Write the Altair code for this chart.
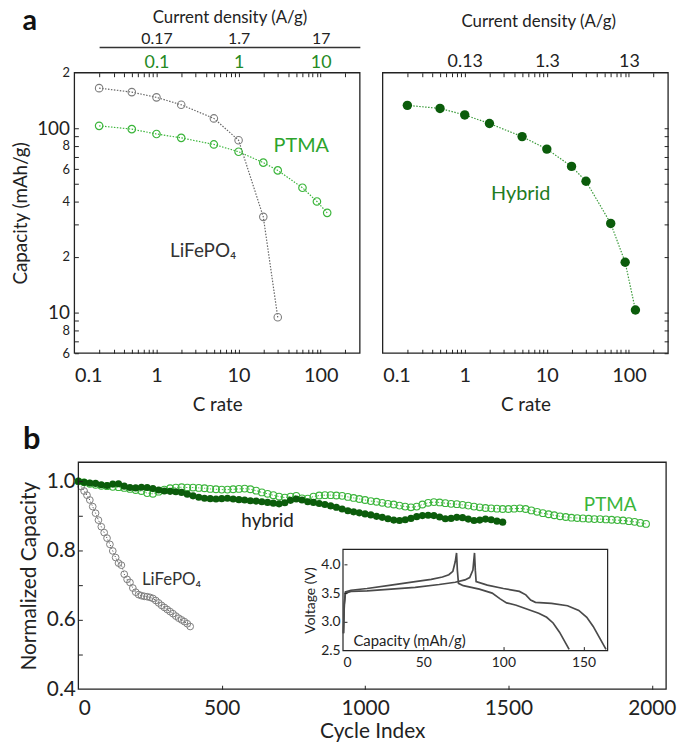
import math
import altair as alt
import pandas as pd

FONT = "Lato"
INK = "#222222"
LFP_GRAY = "#7d7d7d"
PTMA_GREEN = "#3bb53b"
PTMA_TXT = "#2ca42c"
AXIS_GREEN = "#248a24"
HYB_GREEN = "#0b5c0b"
HYB_TXT = "#1f7c1f"
INSET_LINE = "#4a4a4a"

# ---------------- data: (a) rate capability ----------------
crate_lfp = [0.2, 0.5, 1, 2, 5, 10, 20, 30]
cap_lfp = [165, 157, 147, 134, 113, 86, 33, 9.4]
crate_ptma = [0.2, 0.5, 1, 2, 5, 10, 20, 30, 60, 90, 120]
cap_ptma = [103, 98.8, 93, 88.6, 81.6, 74.5, 65, 59, 47.5, 40, 34.7]
crate_hyb = [0.2, 0.5, 1, 2, 5, 10, 20, 30, 60, 90, 120]
cap_hyb = [133, 128, 118, 106, 90, 77, 62, 51.5, 30.4, 18.7, 10.3]

# current density of 1C (A/g) and top-axis ticks
cd_per_c_lfp = 0.17
cd_per_c_ptma = 0.1
cd_per_c_hyb = 0.13
cd_lfp_ticks = [0.17, 1.7, 17]
cd_ptma_ticks = [0.1, 1, 10]
cd_hyb_ticks = [0.13, 1.3, 13]

crate_ticks = [0.1, 1, 10, 100]
cap_label_vals = [200, 100, 80, 60, 40, 20, 10, 8, 6]
cap_label_text = ["2", "100", "8", "6", "4", "2", "10", "8", "6"]

# ---------------- data: (b) cycling ----------------
cyc_lfp = list(range(0, 400, 10))
norm_lfp = [1.000, 0.985, 0.972, 0.960, 0.946, 0.927, 0.908, 0.888, 0.869, 0.852,
            0.836, 0.818, 0.799, 0.780, 0.764, 0.758, 0.732, 0.717, 0.708, 0.692,
            0.680, 0.673, 0.670, 0.668, 0.667, 0.665, 0.662, 0.656, 0.649, 0.642,
            0.636, 0.630, 0.624, 0.618, 0.611, 0.605, 0.600, 0.595, 0.589, 0.581]
cyc_ptma = list(range(0, 2000, 20))
norm_ptma = [1.000, 0.997, 0.993, 0.990, 0.987, 0.986, 0.984, 0.983, 0.981, 0.978,
             0.975, 0.972, 0.966, 0.964, 0.970, 0.976, 0.980, 0.982, 0.983, 0.982,
             0.982, 0.981, 0.980, 0.978, 0.977, 0.976, 0.976, 0.977, 0.978, 0.979,
             0.977, 0.973, 0.968, 0.964, 0.960, 0.956, 0.953, 0.956, 0.958, 0.951,
             0.950, 0.956, 0.959, 0.960, 0.960, 0.959, 0.958, 0.955, 0.952, 0.949,
             0.946, 0.943, 0.941, 0.938, 0.935, 0.933, 0.930, 0.927, 0.925, 0.927,
             0.933, 0.938, 0.940, 0.939, 0.937, 0.935, 0.934, 0.932, 0.930, 0.927,
             0.925, 0.923, 0.922, 0.921, 0.920, 0.920, 0.921, 0.922, 0.920, 0.916,
             0.912, 0.908, 0.905, 0.902, 0.899, 0.897, 0.895, 0.894, 0.893, 0.892,
             0.891, 0.891, 0.890, 0.889, 0.888, 0.887, 0.885, 0.883, 0.880, 0.877]
cyc_hyb = list(range(0, 1500, 20))
norm_hyb = [1.000, 0.997, 0.995, 0.994, 0.990, 0.988, 0.992, 0.993, 0.986, 0.982,
            0.981, 0.983, 0.982, 0.979, 0.975, 0.972, 0.971, 0.970, 0.968, 0.963,
            0.958, 0.954, 0.951, 0.950, 0.949, 0.950, 0.951, 0.949, 0.947, 0.946,
            0.944, 0.943, 0.941, 0.939, 0.937, 0.935, 0.938, 0.945, 0.949, 0.946,
            0.941, 0.939, 0.936, 0.933, 0.929, 0.925, 0.920, 0.915, 0.912, 0.909,
            0.906, 0.903, 0.899, 0.896, 0.892, 0.888, 0.887, 0.889, 0.893, 0.898,
            0.901, 0.902, 0.901, 0.897, 0.892, 0.893, 0.896, 0.895, 0.891, 0.887,
            0.888, 0.891, 0.889, 0.885, 0.882]

# inset: charge/discharge profiles
cap_curve_a = [0.3, 0.8, 1.5, 5, 15, 30, 45, 55, 62, 66, 68.5, 70, 70.8, 71.3, 72, 75,
               85, 93, 98, 102, 108, 115, 122, 127, 131, 135, 139, 141]
volt_curve_a = [2.80, 3.30, 3.52, 3.55, 3.58, 3.64, 3.70, 3.74, 3.78, 3.82, 3.88, 4.05,
                4.20, 3.90, 3.67, 3.63, 3.57, 3.50, 3.40, 3.33, 3.29, 3.22, 3.15, 3.08,
                2.98, 2.82, 2.62, 2.52]
cap_curve_b = [0.3, 0.8, 1.5, 5, 15, 30, 45, 60, 70, 76, 79, 81, 82, 82.5, 83, 90,
               100, 110, 114, 117, 120, 130, 140, 147, 152, 156, 160, 164]
volt_curve_b = [2.80, 3.30, 3.50, 3.53, 3.54, 3.57, 3.60, 3.65, 3.69, 3.73, 3.77, 3.90,
                4.20, 3.90, 3.70, 3.64, 3.58, 3.53, 3.47, 3.38, 3.34, 3.32, 3.28, 3.20,
                3.08, 2.92, 2.72, 2.52]

# annotations (data coordinates)
ann_ptma_a = (58, 80)
ann_lfp_a = (3.7, 21.6)
ann_hyb_a = (4.8, 43.8)
ann_hyb_b = (660, 0.884)
ann_ptma_b = (1855, 0.931)
ann_lfp_b = (325, 0.715)

# ---------------- layout (pixels inside the single canvas) ----------------
W, H = 599, 622
LX = [0, 288]
RX = [311, 599]
AY = [283, 0]
BX = [4, 597]
BY = [622, 393]
IX = [271, 538]
IY = [583, 481]

CR_DOM = [0.1, 300]
CAP_DOM = [6, 200]
CYC_DOM = [0, 2050]
NORM_DOM = [0.4, 1.055]
ICAP_DOM = [0, 165]
IV_DOM = [2.5, 4.26]


def sc(typ, dom, rng):
    if typ == "log":
        return alt.Scale(type="log", domain=dom, range=rng, nice=False)
    return alt.Scale(type=typ, domain=dom, range=rng, nice=False, zero=False)


sLx = sc("log", CR_DOM, LX)
sRx = sc("log", CR_DOM, RX)
sAy = sc("log", CAP_DOM, AY)
sBx = sc("linear", CYC_DOM, BX)
sBy = sc("linear", NORM_DOM, BY)
sIx = sc("linear", ICAP_DOM, IX)
sIy = sc("linear", IV_DOM, IY)

# black current-density axis: line starts at the first rate (0.2C)
x02 = LX[0] + (LX[1] - LX[0]) * math.log10(0.2 / CR_DOM[0]) / math.log10(CR_DOM[1] / CR_DOM[0])
sLcd = sc("log", [0.2 * cd_per_c_lfp, CR_DOM[1] * cd_per_c_lfp], [x02, LX[1]])
sPcd = sc("log", [CR_DOM[0] * cd_per_c_ptma, CR_DOM[1] * cd_per_c_ptma], LX)
sHcd = sc("log", [CR_DOM[0] * cd_per_c_hyb, CR_DOM[1] * cd_per_c_hyb], RX)

crate_minor = [m * 10 ** e for e in (-1, 0, 1, 2) for m in range(1, 10)
               if CR_DOM[0] < m * 10 ** e < CR_DOM[1]]
cap_minor = [m * 10 ** e for e in (0, 1, 2) for m in range(1, 10)
             if CAP_DOM[0] <= m * 10 ** e < CAP_DOM[1]]


def lab_expr(vals, texts):
    return " : ".join(f"datum.value == {v} ? '{t}'" for v, t in zip(vals, texts)) + " : ''"


def tick_axis(orient, offset, values, size=4):
    return alt.Axis(orient=orient, offset=offset, values=values, labels=False,
                    domain=False, ticks=True, tickSize=size, tickWidth=1,
                    tickColor=INK, title=None, grid=False, zindex=2)


def X(f, s, axis=None):
    return alt.X(f, type="quantitative", scale=s, axis=axis)


def Y(f, s, axis=None):
    return alt.Y(f, type="quantitative", scale=s, axis=axis)


df_lfp = pd.DataFrame({"c": crate_lfp, "cap": cap_lfp})
df_ptma = pd.DataFrame({"c": crate_ptma, "cap": cap_ptma})
df_hyb = pd.DataFrame({"c": crate_hyb, "cap": cap_hyb})
df_blfp = pd.DataFrame({"n": cyc_lfp, "v": norm_lfp})
df_bptma = pd.DataFrame({"n": cyc_ptma, "v": norm_ptma})
df_bhyb = pd.DataFrame({"n": cyc_hyb, "v": norm_hyb})
df_ia = pd.DataFrame({"q": cap_curve_a, "u": volt_curve_a, "i": range(len(cap_curve_a))})
df_ib = pd.DataFrame({"q": cap_curve_b, "u": volt_curve_b, "i": range(len(cap_curve_b))})

dotted = dict(strokeDash=[1.5, 1.5], strokeWidth=1.2)
layers = []

# ======================= panel a (left) =======================
ax_L_bottom = alt.Axis(orient="bottom", offset=-(H - AY[0]), values=crate_ticks, format="~g",
                       labelFontSize=20, labelPadding=13, ticks=False, domain=False,
                       title="C rate", titleFontSize=19, titleY=58, titleBaseline="alphabetic")
ax_L_left = alt.Axis(orient="left", values=cap_label_vals,
                     labelExpr=lab_expr(cap_label_vals, cap_label_text),
                     labelFontSize={"condition": {"test": "datum.value == 100 || datum.value == 10",
                                                  "value": 19}, "value": 13},
                     labelPadding=5, ticks=False, domain=False,
                     title="Capacity (mAh/g)", titleFontSize=19, titleX=-54,
                     titleBaseline="middle")

layers.append(alt.Chart(df_lfp).mark_line(color="#666666", **dotted).encode(
    x=X("c", sLx), y=Y("cap", sAy)))
layers.append(alt.Chart(df_lfp).mark_point(shape="circle", filled=False, size=57, strokeWidth=1.1,
                                            color=LFP_GRAY, opacity=1).encode(
    x=X("c", sLx, ax_L_bottom), y=Y("cap", sAy, ax_L_left)))
layers.append(alt.Chart(df_ptma).mark_line(color=PTMA_GREEN, **dotted).encode(
    x=X("c", sLx), y=Y("cap", sAy)))
layers.append(alt.Chart(df_ptma).mark_point(shape="circle", filled=False, size=57, strokeWidth=1.2,
                                             color=PTMA_GREEN, opacity=1).encode(
    x=X("c", sLx), y=Y("cap", sAy)))
# green current-density labels (PTMA)
layers.append(alt.Chart(pd.DataFrame({"cd": cd_ptma_ticks})).mark_point(opacity=0).encode(
    x=X("cd", sPcd, alt.Axis(orient="top", values=cd_ptma_ticks, format="~g",
                             labelColor=AXIS_GREEN, labelFontSize=18, labelPadding=1,
                             ticks=False, domain=False, title=None))))
# black current-density axis (LiFePO4)
layers.append(alt.Chart(pd.DataFrame({"cd": cd_lfp_ticks})).mark_point(opacity=0).encode(
    x=X("cd", sLcd, alt.Axis(orient="top", offset=26, values=cd_lfp_ticks, format="~g",
                             labelFontSize=16, labelPadding=1, ticks=False, domain=True,
                             domainColor="#333333", domainWidth=1.4,
                             title="Current density (A/g)", titleFontSize=17,
                             titleY=-25, titleBaseline="alphabetic"))))
# inward ticks
layers.append(alt.Chart(df_lfp).mark_point(opacity=0).encode(
    x=X("c", sLx, tick_axis("bottom", -(H - AY[0]) - 4, crate_minor)),
    y=Y("cap", sAy, tick_axis("left", -4, cap_minor))))
layers.append(alt.Chart(df_lfp).mark_point(opacity=0).encode(
    x=X("c", sLx, tick_axis("top", -4, crate_minor))))
# frame
layers.append(alt.Chart(pd.DataFrame({"x0": [CR_DOM[0]], "x1": [CR_DOM[1]],
                                      "y0": [CAP_DOM[0]], "y1": [CAP_DOM[1]]}))
              .mark_rect(fillOpacity=0, stroke=INK, strokeWidth=1.3).encode(
    x=X("x0", sLx), x2="x1", y=Y("y0", sAy), y2="y1"))
layers.append(alt.Chart(pd.DataFrame({"x": [ann_ptma_a[0]], "y": [ann_ptma_a[1]], "t": ["PTMA"]}))
              .mark_text(font=FONT, fontSize=20, color=PTMA_TXT).encode(
    x=X("x", sLx), y=Y("y", sAy), text="t"))
layers.append(alt.Chart(pd.DataFrame({"x": [ann_lfp_a[0]], "y": [ann_lfp_a[1]], "t": ["LiFePO₄"]}))
              .mark_text(font=FONT, fontSize=19, color="#333333").encode(
    x=X("x", sLx), y=Y("y", sAy), text="t"))

# ======================= panel a (right) =======================
ax_R_bottom = alt.Axis(orient="bottom", offset=-(H - AY[0]), values=crate_ticks, format="~g",
                       labelFontSize=20, labelPadding=13, ticks=False, domain=False,
                       title="C rate", titleFontSize=19, titleY=58, titleBaseline="alphabetic")
layers.append(alt.Chart(df_hyb).mark_line(color="#3a9a3a", **dotted).encode(
    x=X("c", sRx), y=Y("cap", sAy)))
layers.append(alt.Chart(df_hyb).mark_circle(size=90, color=HYB_GREEN, opacity=1).encode(
    x=X("c", sRx, ax_R_bottom), y=Y("cap", sAy)))
layers.append(alt.Chart(pd.DataFrame({"cd": cd_hyb_ticks})).mark_point(opacity=0).encode(
    x=X("cd", sHcd, alt.Axis(orient="top", values=cd_hyb_ticks, format="~g",
                             labelFontSize=18, labelPadding=2, ticks=False, domain=False,
                             title="Current density (A/g)", titleFontSize=17,
                             titleX=RX[0] + 157, titleY=-47, titleBaseline="alphabetic"))))
layers.append(alt.Chart(df_hyb).mark_point(opacity=0).encode(
    x=X("c", sRx, tick_axis("bottom", -(H - AY[0]) - 4, crate_minor)),
    y=Y("cap", sAy, tick_axis("right", -4, cap_minor))))
layers.append(alt.Chart(df_hyb).mark_point(opacity=0).encode(
    x=X("c", sRx, tick_axis("top", -4, crate_minor))))
layers.append(alt.Chart(pd.DataFrame({"x0": [CR_DOM[0]], "x1": [CR_DOM[1]],
                                      "y0": [CAP_DOM[0]], "y1": [CAP_DOM[1]]}))
              .mark_rect(fillOpacity=0, stroke=INK, strokeWidth=1.3).encode(
    x=X("x0", sRx), x2="x1", y=Y("y0", sAy), y2="y1"))
layers.append(alt.Chart(pd.DataFrame({"x": [ann_hyb_a[0]], "y": [ann_hyb_a[1]], "t": ["Hybrid"]}))
              .mark_text(font=FONT, fontSize=20, color=HYB_TXT).encode(
    x=X("x", sRx), y=Y("y", sAy), text="t"))

# ======================= panel b =======================
ax_B_bottom = alt.Axis(orient="bottom", values=[0, 500, 1000, 1500, 2000], format="d",
                       labelFontSize=21, labelPadding=9, ticks=False, domain=False,
                       title="Cycle Index", titleFontSize=21, titleY=49,
                       titleBaseline="alphabetic")
ax_B_left = alt.Axis(orient="left", offset=-BX[0], values=[0.4, 0.6, 0.8, 1.0], format=".1f",
                     labelFontSize=21, labelPadding=3, ticks=False, domain=False,
                     title="Normalized Capacity", titleFontSize=21, titleX=-49,
                     titleBaseline="middle")
thin_dot = dict(strokeDash=[1.2, 1.8], strokeWidth=1)
layers.append(alt.Chart(df_blfp).mark_line(color="#555555", **thin_dot).encode(
    x=X("n", sBx), y=Y("v", sBy)))
layers.append(alt.Chart(df_blfp).mark_point(shape="circle", filled=False, size=46, strokeWidth=1,
                                             color=LFP_GRAY, opacity=1).encode(
    x=X("n", sBx, ax_B_bottom), y=Y("v", sBy, ax_B_left)))
layers.append(alt.Chart(df_bptma).mark_line(color=PTMA_GREEN, **thin_dot).encode(
    x=X("n", sBx), y=Y("v", sBy)))
layers.append(alt.Chart(df_bptma).mark_point(shape="circle", filled=False, size=46, strokeWidth=1.1,
                                              color=PTMA_GREEN, opacity=1).encode(
    x=X("n", sBx), y=Y("v", sBy)))
layers.append(alt.Chart(df_bhyb).mark_circle(size=52, color=HYB_GREEN, opacity=1).encode(
    x=X("n", sBx), y=Y("v", sBy)))
layers.append(alt.Chart(df_bhyb).mark_point(opacity=0).encode(
    x=X("n", sBx, tick_axis("bottom", -4, [500, 1000, 1500, 2000])),
    y=Y("v", sBy, tick_axis("left", -BX[0] - 4, [0.5, 0.6, 0.7, 0.8, 0.9, 1.0]))))
layers.append(alt.Chart(pd.DataFrame({"x0": [CYC_DOM[0]], "x1": [CYC_DOM[1]],
                                      "y0": [NORM_DOM[0]], "y1": [NORM_DOM[1]]}))
              .mark_rect(fillOpacity=0, stroke=INK, strokeWidth=1.3).encode(
    x=X("x0", sBx), x2="x1", y=Y("y0", sBy), y2="y1"))
layers.append(alt.Chart(pd.DataFrame({"x": [ann_hyb_b[0]], "y": [ann_hyb_b[1]], "t": ["hybrid"]}))
              .mark_text(font=FONT, fontSize=19, color=INK).encode(
    x=X("x", sBx), y=Y("y", sBy), text="t"))
layers.append(alt.Chart(pd.DataFrame({"x": [ann_ptma_b[0]], "y": [ann_ptma_b[1]], "t": ["PTMA"]}))
              .mark_text(font=FONT, fontSize=19, color=PTMA_GREEN).encode(
    x=X("x", sBx), y=Y("y", sBy), text="t"))
layers.append(alt.Chart(pd.DataFrame({"x": [ann_lfp_b[0]], "y": [ann_lfp_b[1]], "t": ["LiFePO₄"]}))
              .mark_text(font=FONT, fontSize=17, color="#333333").encode(
    x=X("x", sBx), y=Y("y", sBy), text="t"))

# ----- inset -----
layers.append(alt.Chart(pd.DataFrame({"x0": [ICAP_DOM[0]], "x1": [ICAP_DOM[1]],
                                      "y0": [IV_DOM[0]], "y1": [IV_DOM[1]]}))
              .mark_rect(fill="white", stroke=INK, strokeWidth=1.2).encode(
    x=X("x0", sIx), x2="x1", y=Y("y0", sIy), y2="y1"))
ax_I_bottom = alt.Axis(orient="bottom", offset=-(H - IY[0]), values=[0, 50, 100, 150],
                       labelFontSize=14, labelPadding=5, ticks=False, domain=False,
                       title="Capacity (mAh/g)", titleFontSize=15, titleX=IX[0] + 10, titleY=-5,
                       titleAlign="left", titleBaseline="alphabetic", zindex=2)
ax_I_left = alt.Axis(orient="left", offset=-IX[0], values=[2.5, 3.0, 3.5, 4.0], format=".1f",
                     labelFontSize=14, labelPadding=3, ticks=False, domain=False,
                     title="Voltage (V)", titleFontSize=14, titleX=-33, titleBaseline="middle",
                     zindex=2)
layers.append(alt.Chart(df_ia).mark_line(color=INSET_LINE, strokeWidth=1.7).encode(
    x=X("q", sIx, ax_I_bottom), y=Y("u", sIy, ax_I_left), order="i:Q"))
layers.append(alt.Chart(df_ib).mark_line(color=INSET_LINE, strokeWidth=1.7).encode(
    x=X("q", sIx), y=Y("u", sIy), order="i:Q"))
layers.append(alt.Chart(df_ia).mark_point(opacity=0).encode(
    x=X("q", sIx, tick_axis("bottom", -(H - IY[0]) - 4, [50, 100, 150], 3)),
    y=Y("u", sIy, tick_axis("left", -IX[0] - 4, [3.0, 3.5, 4.0], 3))))

# ----- panel letters -----
layers.append(alt.Chart(pd.DataFrame({"t": ["a"]})).mark_text(
    font=FONT, fontSize=29, fontWeight="bold", color="#111111", baseline="alphabetic").encode(
    x=alt.value(-45), y=alt.value(-43), text="t"))
layers.append(alt.Chart(pd.DataFrame({"t": ["b"]})).mark_text(
    font=FONT, fontSize=31, fontWeight="bold", color="#111111", baseline="alphabetic").encode(
    x=alt.value(-43), y=alt.value(380), text="t"))

chart = (alt.layer(*layers)
         .resolve_scale(x="independent", y="independent")
         .properties(width=W, height=H, background="white",
                     autosize=alt.AutoSizeParams(type="none"),
                     padding={"left": 67, "top": 62, "right": 10, "bottom": 57})
         .configure_view(stroke=None)
         .configure_axis(grid=False, labelFont=FONT, titleFont=FONT, labelColor=INK,
                         titleColor=INK, titleFontWeight="normal", domainColor=INK,
                         tickColor=INK))

chart.save("out.html", embed_options={"renderer": "svg", "actions": False})
